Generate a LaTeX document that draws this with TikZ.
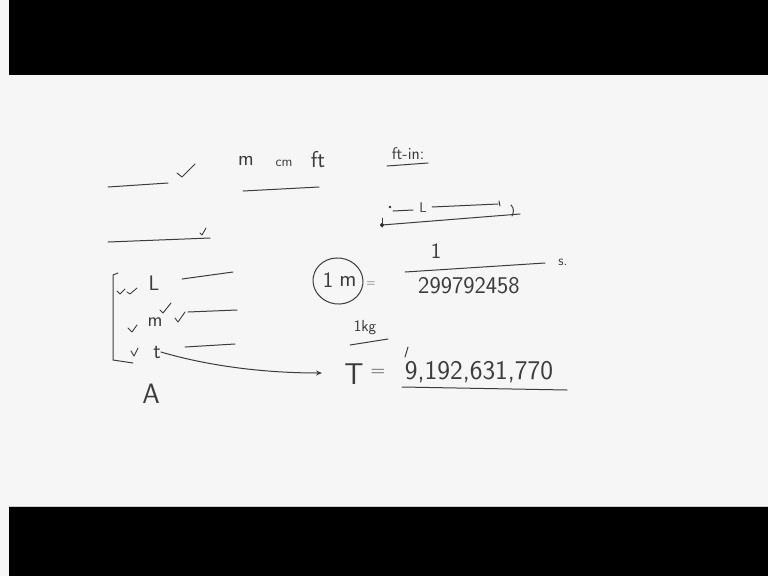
\documentclass[tikz,border=0pt]{standalone}
\usepackage{fontspec}
\usetikzlibrary{arrows.meta,shapes.geometric}
\definecolor{ink}{HTML}{3C3C3C}
\definecolor{board}{HTML}{F6F6F6}
\begin{document}
\begin{tikzpicture}[x=1pt,y=-1pt,
  ink/.style={draw=ink,line width=1pt,line cap=round,line join=round},
  hw/.style={text=ink,inner sep=0pt,font=\sffamily},
  chk/.style={draw=ink,line width=0.9pt,line cap=round,line join=round}]
\useasboundingbox (0,0) rectangle (768,576);
\fill[board] (0,0) rectangle (768,576);
\fill[black] (9,0) rectangle (768,75);
\fill[black] (9,507) rectangle (768,576);
\draw[gray!40,line width=0.8pt] (9,506) -- (768,506);

% top rows
\draw[ink] (108,187) -- (168,183);
\draw[chk] (177,173) -- (182,177) -- (195,164);
\draw[ink] (108,242) -- (210,238);
\draw[chk] (200,233) -- (202,235) -- (206,228);

\node[hw,font=\sffamily\fontsize{21}{21}\selectfont] (m1) at (246,161) {m};
\node[hw,font=\sffamily\fontsize{14}{14}\selectfont] (cm) at (284,163) {cm};
\node[hw,font=\sffamily\fontsize{23}{23}\selectfont] (ft) at (318,160) {ft};
\draw[ink] (243,191) -- (319,187);
\node[hw,font=\sffamily\fontsize{17}{17}\selectfont] (ftin) at (408,154) {ft-in:};
\draw[ink] (387,166) -- (428,163);

% dimension L
\draw[ink] (382,225) -- (520,214);
\draw[ink] (382,218) -- (382,227);
\fill[ink] (382,225) circle (1.6);
\draw[ink] (511,205) .. controls (514,208) and (514,212) .. (512,216);
\fill[ink] (390,207) circle (0.8);
\draw[ink] (393,211) -- (413,210);
\node[hw,font=\sffamily\fontsize{14}{14}\selectfont] (Ldim) at (423,208) {L};
\draw[ink] (432,207) -- (498,204);
\draw[ink] (499,201) -- (500,206);

% left list
\draw[ink] (118,273) -- (113,275) -- (113,360) -- (133,363);
\node[hw,font=\sffamily\fontsize{21}{21}\selectfont] (L) at (154,283) {L};
\node[hw,font=\sffamily\fontsize{20}{20}\selectfont] (m2) at (155,322) {m};
\node[hw,font=\sffamily\fontsize{22}{22}\selectfont] (t) at (157,352) {t};
\node[hw,font=\sffamily\fontsize{28}{28}\selectfont] (A) at (151,394) {A};
\draw[ink] (182,279) -- (233,272);
\draw[ink] (188,312) -- (237,310);
\draw[ink] (185,347) -- (235,344);
\draw[chk] (117,291) -- (120,294) -- (125,289);
\draw[chk] (127,292) -- (130,294) -- (137,288);
\draw[chk] (160,310) -- (163,313) -- (171,303);
\draw[chk] (175,318) -- (178,322) -- (185,312);
\draw[chk] (128,328) -- (132,332) -- (137,325);
\draw[chk] (131,351) -- (134,356) -- (138,348);

% circled 1 m = 1/299792458 s
\node[draw=ink,line width=1pt,ellipse,minimum width=50pt,minimum height=46pt,inner sep=0pt,rotate=-8] (circ) at (338,281) {};
\node[hw,font=\sffamily\fontsize{22}{22}\selectfont] (one) at (328,280) {1};
\node[hw,font=\sffamily\fontsize{23}{23}\selectfont] (mm) at (348,281) {m};
\node[hw,font=\sffamily\fontsize{12}{12}\selectfont] (eq1) at (371,284) {=};
\node[hw,font=\sffamily\fontsize{22}{22}\selectfont] (num) at (436,251) {1};
\draw[ink] (405,272) -- (545,263);
\node[hw,font=\sffamily\fontsize{24}{24}\selectfont] (den) at (469,286) {299792458};
\node[hw,font=\sffamily\fontsize{14}{14}\selectfont] (s) at (563,262) {s.};

% 1kg
\node[hw,font=\sffamily\fontsize{16}{16}\selectfont] (kg) at (365,328) {1kg};
\draw[ink] (350,345) -- (388,339);
\draw[ink] (408,347) -- (405,357);

% T = ...
\node[hw,font=\sffamily\fontsize{30}{30}\selectfont] (T) at (354,374) {T};
\node[hw,font=\sffamily\fontsize{20}{20}\selectfont] (eq2) at (378,373) {=};
\node[hw,font=\sffamily\fontsize{27}{27}\selectfont] (val) at (479,372) {9,192,631,770};
\draw[ink] (402,387) -- (567,390);

\coordinate (aend) at (322,373);
\draw[ink,-{Stealth[length=6pt,width=5pt,open]}] (t.east) .. controls (205,365) and (260,373) .. (aend);
\end{tikzpicture}
\end{document}
